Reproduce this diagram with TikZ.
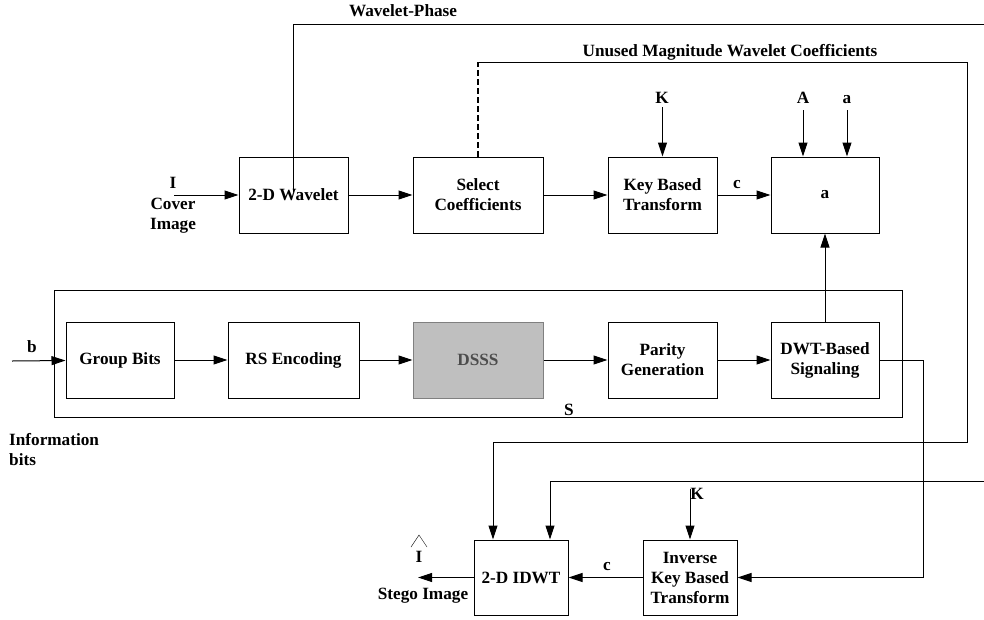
\documentclass[tikz,border=0pt]{standalone}
\usepackage{fontspec}
\setmainfont{Liberation Serif}
\usetikzlibrary{arrows.meta}

\begin{document}
\begin{tikzpicture}[
    x=1pt,y=-1pt,>={Triangle[length=14pt,width=9pt]},
    font=\fontsize{17.2}{20}\selectfont\bfseries,
    box/.style={draw,line width=1pt,minimum height=76pt,align=center,inner sep=2pt},
    line/.style={line width=1pt},
    lbl/.style={inner sep=1pt}
    ]
    \useasboundingbox (0,0) rectangle (984,619);
    % embedding side
    \node[box,minimum width=848pt,minimum height=127pt] (S) at (478,353.5) {};
    \node[box,minimum width=109pt] (wav) at (293.5,195) {2-D Wavelet};
    \node[box,minimum width=130pt] (sel) at (478,195) {Select\\Coefficients};
    \node[box,minimum width=109pt] (kbt) at (662.5,195) {Key Based\\Transform};
    \node[box,minimum width=108pt] (emb) at (825,195) {a};
    \node[box,minimum width=108pt] (grp) at (120,360) {Group Bits};
    \node[box,minimum width=131pt] (rs) at (293.5,360) {RS Encoding};
    \node[box,minimum width=130pt,fill=gray!50,draw=gray,text=black!70] (dsss) at (478,360) {DSSS};
    \node[box,minimum width=109pt] (par) at (662.5,360) {Parity\\Generation};
    \node[box,minimum width=108pt] (dwt) at (825,360) {DWT-Based\\Signaling};
    % extraction side
    \node[box,minimum width=94pt,minimum height=75pt] (idwt) at (521,577.5) {2-D IDWT};
    \node[box,minimum width=94pt,minimum height=75pt] (ikbt) at (690,577.5) {Inverse\\Key Based\\Transform};

    \coordinate (cin) at (174,195);
    \coordinate (bin) at (12,361);
    \coordinate (kin) at (662.5,107);
    \coordinate (ain) at (803,110);
    \coordinate (ain2) at (847,110);
    \coordinate (kin2) at (690,489);
    \coordinate (out) at (418,577.5);
    \coordinate (wp) at (293,192);
    \coordinate (wpend) at (984,24);
    \coordinate (wpback) at (984,481);
    \coordinate (um) at (478,62);
    \coordinate (umr) at (967,62);
    \coordinate (umb) at (493,442);
    \coordinate (wpb) at (550,481);
    \coordinate (sig) at (923,360);

    \draw[line,->] (cin) -- (wav);
    \draw[line,->] (wav) -- (sel);
    \draw[line,->] (sel) -- (kbt);
    \draw[line,->] (kbt) -- (emb);
    \draw[line,->] (kin) -- (kbt);
    \draw[line,->] (ain) -- (ain |- emb.north);
    \draw[line,->] (ain2) -- (ain2 |- emb.north);
    \draw[line,->] (bin) -- (grp);
    \draw[line,->] (grp) -- (rs);
    \draw[line,->] (rs) -- (dsss);
    \draw[line,->] (dsss) -- (par);
    \draw[line,->] (par) -- (dwt);
    \draw[line,->] (dwt) -- (emb);
    \draw[line] (wp) |- (wpend);
    \draw[line width=1.5pt,dash pattern=on 6pt off 3pt] (sel) -- (um);
    \draw[line,->] (um) -- (umr) |- (umb) -- (umb |- idwt.north);
    \draw[line,->] (wpback) -- (wpb) -- (wpb |- idwt.north);
    \draw[line,->] (dwt.east) -- (sig) |- (ikbt.east);
    \draw[line,->] (kin2) -- (ikbt);
    \draw[line,->] (ikbt) -- (idwt);
    \draw[line,->] (idwt) -- (out);
    \draw (411,547) -- (419,535) -- (427,547);

    \node[lbl] (wpl) at (403,11) {Wavelet-Phase};
    \node[lbl] (uml) at (730,52) {Unused Magnitude Wavelet Coefficients};
    \node[lbl] (kl) at (662,98) {K};
    \node[lbl] (al) at (803,98) {A};
    \node[lbl] (al2) at (847,100) {a};
    \node[lbl] (cl) at (737,185) {c};
    \node[lbl] (il) at (173,183) {I};
    \node[lbl,align=center] (cov) at (173,216) {Cover\\Image};
    \node[lbl] (bl) at (32,347) {b};
    \node[lbl,align=left,anchor=west] (inf) at (8,450) {Information\\bits};
    \node[lbl] (sl) at (569,410) {S};
    \node[lbl] (kl2) at (697,494) {K};
    \node[lbl] (cl2) at (607,567) {c};
    \node[lbl] (ihat) at (419,557) {I};
    \node[lbl] (stego) at (423,596) {Stego Image};
\end{tikzpicture}
\end{document}
